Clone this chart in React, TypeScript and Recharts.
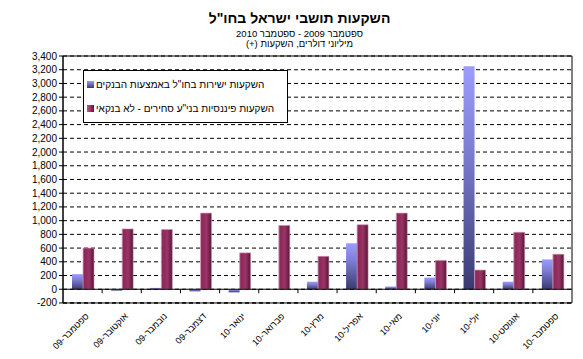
import {
  Bar,
  BarChart,
  CartesianGrid,
  ReferenceArea,
  ReferenceLine,
  XAxis,
  YAxis,
} from "recharts";

const months = [
  "ספטמבר-09",
  "אוקטובר-09",
  "נובמבר-09",
  "דצמבר-09",
  "ינואר-10",
  "פברואר-10",
  "מרץ-10",
  "אפריל-10",
  "מאי-10",
  "יוני-10",
  "יולי-10",
  "אוגוסט-10",
  "ספטמבר-10",
];

const directViaBanks = [220, -20, 20, -30, -45, 0, 110, 670, 40, 170, 3250, 110, 435];
const securitiesNonBank = [600, 880, 870, 1110, 530, 930, 480, 940, 1110, 420, 280, 830, 510];

const seriesNames = [
  'השקעות ישירות בחו"ל באמצעות הבנקים',
  'השקעות פיננסיות בני"ע סחירים - לא בנקאי',
];

const yTicks = [-200, 0, 200, 400, 600, 800, 1000, 1200, 1400, 1600, 1800, 2000, 2200, 2400, 2600, 2800, 3000, 3200, 3400];
const yMin = -200;
const yMax = 3400;

const data = months.map((m, i) => ({
  month: m,
  direct: directViaBanks[i],
  securities: securitiesNonBank[i],
}));

const FONT = "'Liberation Sans', Arial, 'DejaVu Sans', sans-serif";

const MonthTick = (props: any) => {
  const { x, y, payload } = props;
  return (
    <g transform={`translate(${x + 4},${y + 3})`}>
      <text
        transform="rotate(-45)"
        textAnchor="end"
        fontSize={9}
        fontFamily={FONT}
        fill="#000"
        dy={4}
      >
        {"\u2067" + payload.value + "\u2069"}
      </text>
    </g>
  );
};

const ValueTick = (props: any) => {
  const { x, y, payload } = props;
  return (
    <text
      x={x}
      y={y}
      dy={3.5}
      textAnchor="end"
      fontSize={10}
      fontFamily={FONT}
      fill="#000"
    >
      {Math.round(payload.value).toLocaleString("en-US")}
    </text>
  );
};

// the category axis crosses at 0, with ticks between the months
const ZeroLine = (props: any) => {
  const { x1, y1, x2, y2 } = props;
  const step = (x2 - x1) / months.length;
  return (
    <g>
      <line x1={x1} y1={y1} x2={x2} y2={y2} stroke="#000" strokeWidth={1} />
      {months.slice(1).map((m, i) => (
        <line
          key={m}
          x1={x1 + step * (i + 1)}
          x2={x1 + step * (i + 1)}
          y1={y1}
          y2={y1 + 4}
          stroke="#000"
        />
      ))}
    </g>
  );
};

const titleStyle = {
  position: "absolute" as const,
  left: 8,
  width: 583,
  textAlign: "center" as const,
  lineHeight: "10px",
};

export default function App() {
  return (
    <div
      style={{
        position: "relative",
        margin: -8,
        width: 583,
        height: 359,
        background: "#fff",
        fontFamily: FONT,
      }}
    >
      <div
        style={{
          position: "absolute",
          left: 4,
          top: 2,
          width: 573,
          height: 351,
          border: "1px solid #000",
        }}
      />
      <div dir="rtl" style={{ ...titleStyle, top: 10, lineHeight: "16px", fontSize: 14, fontWeight: "bold" }}>
        השקעות תושבי ישראל בחו"ל
      </div>
      <div dir="rtl" style={{ ...titleStyle, top: 29, fontSize: 9.5 }}>
        ספטמבר 2009 - ספטמבר 2010
      </div>
      <div dir="rtl" style={{ ...titleStyle, top: 39, fontSize: 9.5 }}>
        מיליוני דולרים, השקעות (+)
      </div>
      <div style={{ position: "absolute", left: 0, top: 0 }}>
        <BarChart
          width={583}
          height={359}
          data={data}
          margin={{ top: 56, right: 11, bottom: 0, left: 0 }}
          barSize={11}
          barGap={0}
        >
          <defs>
            <linearGradient id="blueGrad" x1="0" y1="0" x2="0" y2="1">
              <stop offset="0%" stopColor="#9c9cff" />
              <stop offset="35%" stopColor="#8080d8" />
              <stop offset="100%" stopColor="#3a3a70" />
            </linearGradient>
            <linearGradient id="maroonGrad" x1="0" y1="0" x2="1" y2="0">
              <stop offset="0%" stopColor="#b45a88" />
              <stop offset="12%" stopColor="#8a2858" />
              <stop offset="55%" stopColor="#9a3466" />
              <stop offset="100%" stopColor="#561636" />
            </linearGradient>
          </defs>
          <CartesianGrid
            vertical={false}
            stroke="#000"
            strokeDasharray="4 3"
          />
          <XAxis
            dataKey="month"
            interval={0}
            height={56}
            tick={<MonthTick />}
            tickLine={false}
            axisLine={false}
          />
          <YAxis
            domain={[yMin - 0.5, yMax]}
            ticks={yTicks}
            interval={0}
            width={63}
            tickSize={4}
            tick={<ValueTick />}
            tickLine={{ stroke: "#000" }}
            axisLine={{ stroke: "#000" }}
          />
          <ReferenceArea
            y1={yMin}
            y2={yMax}
            fill="none"
            stroke="#000"
            strokeWidth={1}
            ifOverflow="visible"
          />
          <ReferenceLine y={0} shape={<ZeroLine />} />
          <Bar
            dataKey="direct"
            name={seriesNames[0]}
            fill="url(#blueGrad)"
            isAnimationActive={false}
          />
          <Bar
            dataKey="securities"
            name={seriesNames[1]}
            fill="url(#maroonGrad)"
            stroke="#c890ac"
            strokeWidth={0.6}
            isAnimationActive={false}
          />
        </BarChart>
      </div>
      <div
        style={{
          position: "absolute",
          left: 83,
          top: 70,
          width: 203,
          height: 51,
          border: "1px solid #000",
          background: "#fff",
          fontSize: 10,
        }}
      >
        {seriesNames.map((name, i) => (
          <div
            key={name}
            style={{
              position: "absolute",
              left: 3,
              top: i === 0 ? 8 : 32,
              display: "flex",
              alignItems: "center",
              whiteSpace: "nowrap",
            }}
          >
            <span
              style={{
                width: 7,
                height: 7,
                marginRight: 2,
                background: i === 0 ? "linear-gradient(#9c9cff,#3a3a70)" : "linear-gradient(90deg,#b45a88,#9a3466,#561636)",
              }}
            />
            <span dir="rtl">{name}</span>
          </div>
        ))}
      </div>
    </div>
  );
}
